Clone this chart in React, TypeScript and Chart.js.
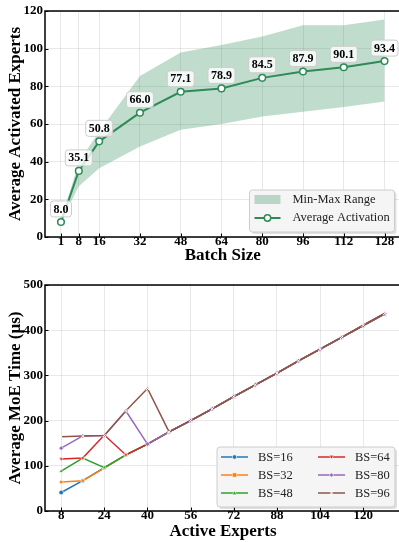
import React, { useEffect, useRef } from "react";
import { Chart, registerables } from "chart.js";

Chart.register(...registerables);

// ---------- DATA ----------
const batchSizes = [1, 8, 16, 32, 48, 64, 80, 96, 112, 128];
const avgActivated = [8.0, 35.1, 50.8, 66.0, 77.1, 78.9, 84.5, 87.9, 90.1, 93.4];
const minActivated = [8, 27, 36.5, 48, 57, 60, 64, 66.5, 69, 72];
const maxActivated = [8, 40, 56, 85.5, 98, 102, 106.5, 112.5, 112.5, 115.5];
const topYTicks = [0, 20, 40, 60, 80, 100, 120];

const activeExperts = [8, 16, 24, 32, 40, 48, 56, 64, 72, 80, 88, 96, 104, 112, 120, 128];
const bs16 = [41, 67, 96, 124, 148, 175, 200, 226, 253, 279, 305, 332, 358, 384, 410, 436];
const bs32 = [64, 67, 95, 124, 148, 175, 200, 226, 253, 279, 305, 332, 358, 384, 410, 436];
const bs48 = [88, 117, 96, 124, 148, 175, 200, 226, 253, 279, 305, 332, 358, 384, 410, 437];
const bs64 = [115, 117, 168, 124, 148, 175, 200, 226, 253, 279, 305, 332, 358, 384, 411, 437];
const bs80 = [139, 166, 167, 221, 148, 175, 200, 226, 253, 279, 305, 332, 358, 384, 410, 436];
const bs96 = [164, 166, 167, 222, 271, 175, 200, 226, 253, 279, 305, 332, 358, 384, 411, 437];
const seriesLabels = ["BS=16", "BS=32", "BS=48", "BS=64", "BS=80", "BS=96"];
const bottomXTicks = [8, 24, 40, 56, 72, 88, 104, 120];
const bottomYTicks = [0, 100, 200, 300, 400, 500];

// ---------- STYLE ----------
const FONT = "'Liberation Serif', 'Times New Roman', Times, serif";
const GREEN = "#2e8b57";
const BAND = "rgba(46,139,87,0.3)";
const COLORS = ["#1f77b4", "#ff7f0e", "#2ca02c", "#d62728", "#9467bd", "#8c564b"];
const MARKERS = ["circle", "rect", "triangle", "triangleDown", "rectRot", "crossRot"];
const GRID = "rgba(0,0,0,0.09)";
const CANVAS_W = 406;

function roundRect(c: CanvasRenderingContext2D, x: number, y: number, w: number, h: number, r: number) {
  c.beginPath();
  c.moveTo(x + r, y);
  c.lineTo(x + w - r, y);
  c.arcTo(x + w, y, x + w, y + r, r);
  c.lineTo(x + w, y + h - r);
  c.arcTo(x + w, y + h, x + w - r, y + h, r);
  c.lineTo(x + r, y + h);
  c.arcTo(x, y + h, x, y + h - r, r);
  c.lineTo(x, y + r);
  c.arcTo(x, y, x + r, y, r);
  c.closePath();
}

function drawMarker(c: CanvasRenderingContext2D, style: string, x: number, y: number, r: number, color: string) {
  c.save();
  c.fillStyle = color;
  c.strokeStyle = "#fff";
  c.lineWidth = 0.6;
  c.beginPath();
  if (style === "circle") {
    c.arc(x, y, r, 0, Math.PI * 2);
    c.fill();
    c.stroke();
  } else if (style === "rect") {
    c.rect(x - r, y - r, 2 * r, 2 * r);
    c.fill();
    c.stroke();
  } else if (style === "triangle") {
    c.moveTo(x, y - r);
    c.lineTo(x + r, y + r * 0.8);
    c.lineTo(x - r, y + r * 0.8);
    c.closePath();
    c.fill();
    c.stroke();
  } else if (style === "triangleDown") {
    c.moveTo(x, y + r);
    c.lineTo(x + r, y - r * 0.8);
    c.lineTo(x - r, y - r * 0.8);
    c.closePath();
    c.fill();
    c.stroke();
  } else if (style === "rectRot") {
    c.moveTo(x, y - r);
    c.lineTo(x + r, y);
    c.lineTo(x, y + r);
    c.lineTo(x - r, y);
    c.closePath();
    c.fill();
    c.stroke();
  } else {
    c.strokeStyle = "#fff";
    c.lineWidth = 1;
    c.moveTo(x - r, y - r);
    c.lineTo(x + r, y + r);
    c.moveTo(x + r, y - r);
    c.lineTo(x - r, y + r);
    c.stroke();
  }
  c.restore();
}

function drawFrame(chart: any, xTicks: number[], yTicks: number[]) {
  const c: CanvasRenderingContext2D = chart.ctx;
  const a = chart.chartArea;
  const sx = chart.scales.x;
  const sy = chart.scales.y;
  c.save();
  c.strokeStyle = "#000";
  c.lineWidth = 1;
  c.beginPath();
  xTicks.forEach((v) => {
    const px = Math.round(sx.getPixelForValue(v)) + 0.5;
    c.moveTo(px, a.bottom);
    c.lineTo(px, a.bottom - 3.5);
  });
  yTicks.forEach((v) => {
    const py = Math.round(sy.getPixelForValue(v)) + 0.5;
    c.moveTo(a.left, py);
    c.lineTo(a.left + 3.5, py);
  });
  c.stroke();
  c.lineWidth = 1.5;
  c.strokeRect(a.left, a.top, a.right - a.left, a.bottom - a.top);
  c.restore();
}

function legendBox(c: CanvasRenderingContext2D, x1: number, y1: number, x2: number, y2: number) {
  c.save();
  roundRect(c, x1 + 2, y1 + 2, x2 - x1, y2 - y1, 3);
  c.fillStyle = "rgba(0,0,0,0.12)";
  c.fill();
  roundRect(c, x1, y1, x2 - x1, y2 - y1, 3);
  c.fillStyle = "rgba(246,246,246,0.95)";
  c.fill();
  c.strokeStyle = "#cccccc";
  c.lineWidth = 1;
  c.stroke();
  c.restore();
}

const tickFont = { family: FONT, size: 13, weight: "bold" as const };
const titleFont = { family: FONT, size: 17, weight: "bold" as const };

const fitX = (h: number) => (s: any) => {
  s.height = h;
  s.paddingLeft = 0;
  s.paddingRight = 0;
};
const fitY = (w: number) => (s: any) => {
  s.width = w;
  s.paddingTop = 0;
  s.paddingBottom = 0;
};

function TopChart() {
  const ref = useRef<HTMLCanvasElement>(null);
  useEffect(() => {
    const decor = {
      id: "decorTop",
      afterDatasetsDraw(chart: any) {
        const c: CanvasRenderingContext2D = chart.ctx;
        const a = chart.chartArea;
        drawFrame(chart, batchSizes, topYTicks);
        // value labels
        const meta = chart.getDatasetMeta(2);
        c.save();
        c.font = `bold 12px ${FONT}`;
        meta.data.forEach((pt: any, i: number) => {
          const txt = avgActivated[i].toFixed(1);
          const tw = c.measureText(txt).width;
          const w = tw + 6;
          const h = 16;
          const cx = pt.x;
          const cy = pt.y - 13;
          roundRect(c, cx - w / 2, cy - h / 2, w, h, 3);
          c.fillStyle = "rgba(255,255,255,0.8)";
          c.fill();
          c.strokeStyle = "#cccccc";
          c.lineWidth = 1;
          c.stroke();
          c.fillStyle = "#000";
          c.textAlign = "center";
          c.textBaseline = "middle";
          c.fillText(txt, cx, cy + 0.5);
        });
        // legend
        const lx1 = a.right - 151;
        const lx2 = a.right - 6;
        const ly1 = a.bottom - 47;
        const ly2 = a.bottom - 5;
        legendBox(c, lx1, ly1, lx2, ly2);
        c.fillStyle = BAND;
        c.fillRect(lx1 + 5, ly1 + 5, 26, 9);
        c.strokeStyle = GREEN;
        c.lineWidth = 2;
        c.beginPath();
        c.moveTo(lx1 + 5, ly1 + 28);
        c.lineTo(lx1 + 31, ly1 + 28);
        c.stroke();
        c.beginPath();
        c.arc(lx1 + 18, ly1 + 28, 3.2, 0, Math.PI * 2);
        c.fillStyle = "#fff";
        c.fill();
        c.lineWidth = 1.5;
        c.stroke();
        c.font = `12.5px ${FONT}`;
        c.fillStyle = "#222";
        c.textAlign = "left";
        c.textBaseline = "middle";
        c.fillText("Min-Max Range", lx1 + 43, ly1 + 10);
        c.fillText("Average Activation", lx1 + 43, ly1 + 28);
        c.restore();
      },
    };
    const chart = new Chart(ref.current!, {
      type: "line",
      data: {
        datasets: [
          {
            label: "min",
            data: batchSizes.map((x, i) => ({ x, y: minActivated[i] })),
            borderWidth: 0,
            pointRadius: 0,
            fill: false,
            order: 2,
          },
          {
            label: "Min-Max Range",
            data: batchSizes.map((x, i) => ({ x, y: maxActivated[i] })),
            borderWidth: 0,
            pointRadius: 0,
            backgroundColor: BAND,
            fill: "-1",
            order: 1,
          },
          {
            label: "Average Activation",
            data: batchSizes.map((x, i) => ({ x, y: avgActivated[i] })),
            borderColor: GREEN,
            borderWidth: 2,
            pointRadius: 3.3,
            pointBackgroundColor: "#fff",
            pointBorderColor: GREEN,
            pointBorderWidth: 1.5,
            fill: false,
            order: 0,
          },
        ],
      },
      options: {
        responsive: false,
        animation: false,
        devicePixelRatio: 1,
        events: [],
        layout: { padding: { top: 11, left: 0, right: 0, bottom: 0 } },
        plugins: { legend: { display: false }, tooltip: { enabled: false } },
        scales: {
          x: {
            type: "linear",
            min: -5.27,
            max: 134.27,
            afterBuildTicks: (s: any) => {
              s.ticks = batchSizes.map((v) => ({ value: v }));
            },
            afterFit: fitX(33),
            ticks: { font: tickFont, color: "#000", padding: -3, autoSkip: false, maxRotation: 0, callback: (v: any) => String(v) },
            grid: { color: GRID, lineWidth: 1, drawTicks: false },
            border: { display: false },
            title: { display: true, text: "Batch Size", font: titleFont, color: "#000", padding: { top: 0, bottom: 4 } },
          },
          y: {
            type: "linear",
            min: 0,
            max: 120,
            afterBuildTicks: (s: any) => {
              s.ticks = topYTicks.map((v) => ({ value: v }));
            },
            afterFit: fitY(45),
            ticks: { font: tickFont, color: "#000", padding: 2, callback: (v: any) => String(v) },
            grid: { color: GRID, lineWidth: 1, drawTicks: false },
            border: { display: false },
            title: { display: true, text: "Average Activated Experts", font: titleFont, color: "#000", padding: { top: 5, bottom: 0 } },
          },
        },
      },
      plugins: [decor],
    } as any);
    return () => chart.destroy();
  }, []);
  return <canvas ref={ref} width={CANVAS_W} height={270} style={{ position: "absolute", left: 0, top: 0, display: "block" }} />;
}

function BottomChart() {
  const ref = useRef<HTMLCanvasElement>(null);
  useEffect(() => {
    const series = [bs16, bs32, bs48, bs64, bs80, bs96];
    const decor = {
      id: "decorBottom",
      afterDatasetsDraw(chart: any) {
        const c: CanvasRenderingContext2D = chart.ctx;
        const a = chart.chartArea;
        drawFrame(chart, bottomXTicks, bottomYTicks);
        const lx1 = a.right - 184;
        const lx2 = a.right - 6;
        const ly1 = a.bottom - 64;
        const ly2 = a.bottom - 4;
        legendBox(c, lx1, ly1, lx2, ly2);
        c.save();
        c.font = `12.5px ${FONT}`;
        c.textAlign = "left";
        c.textBaseline = "middle";
        seriesLabels.forEach((lab, i) => {
          const col = Math.floor(i / 3);
          const row = i % 3;
          const ix = lx1 + 4 + col * 97;
          const iy = ly1 + 10 + row * 18;
          c.strokeStyle = COLORS[i];
          c.lineWidth = 1.5;
          c.beginPath();
          c.moveTo(ix, iy);
          c.lineTo(ix + 27, iy);
          c.stroke();
          drawMarker(c, MARKERS[i], ix + 13.5, iy, 2.2, COLORS[i]);
          c.fillStyle = "#222";
          c.fillText(lab, ix + 37, iy + 0.5);
        });
        c.restore();
      },
    };
    const chart = new Chart(ref.current!, {
      type: "line",
      data: {
        datasets: series.map((s, i) => ({
          label: seriesLabels[i],
          data: activeExperts.map((x, j) => ({ x, y: s[j] })),
          borderColor: COLORS[i],
          backgroundColor: COLORS[i],
          borderWidth: 1.5,
          pointStyle: MARKERS[i] === "triangleDown" ? "triangle" : MARKERS[i],
          rotation: MARKERS[i] === "triangleDown" ? 180 : 0,
          pointRadius: 2.3,
          pointBorderColor: "#fff",
          pointBorderWidth: MARKERS[i] === "crossRot" ? 1 : 0.6,
          fill: false,
          order: 5 - i,
        })),
      },
      options: {
        responsive: false,
        animation: false,
        devicePixelRatio: 1,
        events: [],
        layout: { padding: { top: 15, left: 0, right: 0, bottom: 0 } },
        plugins: { legend: { display: false }, tooltip: { enabled: false } },
        scales: {
          x: {
            type: "linear",
            min: 2,
            max: 134,
            afterBuildTicks: (s: any) => {
              s.ticks = bottomXTicks.map((v) => ({ value: v }));
            },
            afterFit: fitX(31),
            ticks: { font: tickFont, color: "#000", padding: -3, autoSkip: false, maxRotation: 0, callback: (v: any) => String(v) },
            grid: { color: GRID, lineWidth: 1, drawTicks: false },
            border: { display: false },
            title: { display: true, text: "Active Experts", font: titleFont, color: "#000", padding: { top: 0, bottom: 0 } },
          },
          y: {
            type: "linear",
            min: 0,
            max: 500,
            afterBuildTicks: (s: any) => {
              s.ticks = bottomYTicks.map((v) => ({ value: v }));
            },
            afterFit: fitY(45),
            ticks: { font: tickFont, color: "#000", padding: 2, callback: (v: any) => String(v) },
            grid: { color: GRID, lineWidth: 1, drawTicks: false },
            border: { display: false },
            title: { display: true, text: "Average MoE Time (μs)", font: titleFont, color: "#000", padding: { top: 5, bottom: 0 } },
          },
        },
      },
      plugins: [decor],
    } as any);
    return () => chart.destroy();
  }, []);
  return <canvas ref={ref} width={CANVAS_W} height={272} style={{ position: "absolute", left: 0, top: 270, display: "block" }} />;
}

export default function App() {
  return (
    <div style={{ position: "absolute", left: 0, top: 0, width: 399, height: 542, overflow: "hidden", background: "#fff" }}>
      <TopChart />
      <BottomChart />
    </div>
  );
}
